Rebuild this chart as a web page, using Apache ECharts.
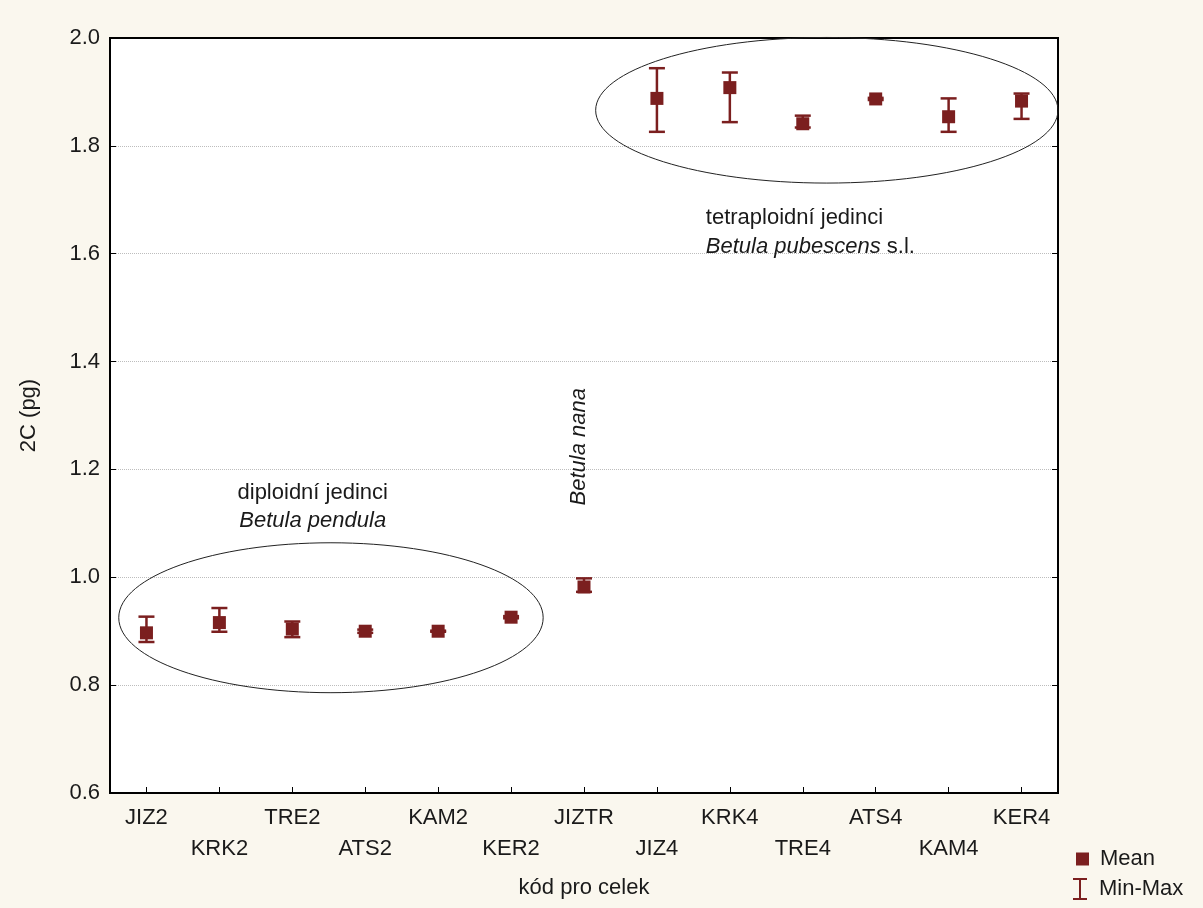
<!DOCTYPE html>
<html>
<head>
<meta charset="utf-8">
<script src="https://cdn.jsdelivr.net/npm/echarts@6/dist/echarts.min.js"></script>
<style>
  html, body { margin: 0; padding: 0; background: #faf7ee; }
  #chart { width: 1203px; height: 908px; }
</style>
</head>
<body>
<div id="chart"></div>
<script>
var categories = ['JIZ2', 'KRK2', 'TRE2', 'ATS2', 'KAM2', 'KER2', 'JIZTR',
  'JIZ4', 'KRK4', 'TRE4', 'ATS4', 'KAM4', 'KER4']
var meanValues = [0.897, 0.916, 0.904, 0.900, 0.900, 0.926, 0.982,
  1.888, 1.908, 1.841, 1.887, 1.854, 1.883]
var minValues = [0.880, 0.899, 0.889, 0.897, 0.899, 0.924, 0.973,
  1.826, 1.844, 1.834, 1.885, 1.826, 1.850]
var maxValues = [0.927, 0.943, 0.918, 0.903, 0.901, 0.928, 0.998,
  1.944, 1.936, 1.856, 1.889, 1.888, 1.897]
var yMin = 0.6
var yMax = 2.0
var yStep = 0.2

var MARK = '#7b1f1f'
var FONT = 'Liberation Sans, Arial, sans-serif'
var TEXT = '#1a1a1a'
var FS = 22

var chart = echarts.init(document.getElementById('chart'))

function renderErrorBar(params, api) {
  var i = api.value(0)
  var lo = api.coord([i, api.value(1)])
  var hi = api.coord([i, api.value(2)])
  var half = 8
  var style = { stroke: MARK, lineWidth: 2.5 }
  return {
    type: 'group',
    children: [
      { type: 'line', shape: { x1: lo[0], y1: lo[1], x2: hi[0], y2: hi[1] }, style: style },
      { type: 'line', shape: { x1: lo[0] - half, y1: lo[1], x2: lo[0] + half, y2: lo[1] }, style: style },
      { type: 'line', shape: { x1: hi[0] - half, y1: hi[1], x2: hi[0] + half, y2: hi[1] }, style: style }
    ]
  }
}

var yAxisBase = {
  type: 'value',
  min: yMin,
  max: yMax,
  interval: yStep,
  axisLine: { show: true, lineStyle: { color: '#000', width: 2 } },
  axisTick: { show: true, inside: true, length: 6, lineStyle: { color: '#000' } }
}

chart.setOption({
  backgroundColor: '#faf7ee',
  textStyle: { fontFamily: FONT },
  grid: {
    left: 110,
    right: 145,
    top: 38,
    bottom: 115,
    show: true,
    backgroundColor: '#fff',
    borderColor: '#000',
    borderWidth: 2
  },
  legend: [
    {
      data: [{ name: 'Mean', icon: 'rect' }],
      left: 1071,
      top: 843,
      itemWidth: 13,
      itemHeight: 13,
      itemGap: 10,
      textStyle: { fontSize: FS, color: TEXT, fontFamily: FONT, padding: [0, 0, 0, 6] }
    },
    {
      data: [{ name: 'Min-Max', icon: 'path://M0,0h14v2h-6v18h6v2h-14v-2h6v-18h-6z' }],
      left: 1068,
      top: 873,
      itemWidth: 16,
      itemHeight: 22,
      itemGap: 10,
      textStyle: { fontSize: FS, color: TEXT, fontFamily: FONT, padding: [0, 0, 0, 6] }
    }
  ],
  xAxis: {
    type: 'category',
    data: categories,
    boundaryGap: true,
    name: 'kód pro celek',
    nameLocation: 'middle',
    nameGap: 84,
    nameTextStyle: { fontSize: FS, color: TEXT, fontFamily: FONT },
    axisLine: { lineStyle: { color: '#000', width: 2 } },
    axisTick: { show: true, inside: true, alignWithLabel: true, length: 6, lineStyle: { color: '#000' } },
    axisLabel: {
      interval: 0,
      margin: 9,
      fontSize: FS,
      lineHeight: 31,
      color: TEXT,
      fontFamily: FONT,
      formatter: function(value, index) {
        return index % 2 ? '\n' + value : value
      }
    },
    splitLine: { show: false }
  },
  yAxis: [
    Object.assign({}, yAxisBase, {
      name: '2C (pg)',
      nameLocation: 'middle',
      nameRotate: 90,
      nameGap: 70,
      nameTextStyle: { fontSize: FS, color: TEXT, fontFamily: FONT },
      axisLabel: {
        margin: 10,
        fontSize: FS,
        color: TEXT,
        fontFamily: FONT,
        formatter: function(v) { return v.toFixed(1) }
      },
      splitLine: {
        show: true,
        showMinLine: false,
        showMaxLine: false,
        lineStyle: { color: '#bdbdbd', type: 'dotted', width: 1 }
      }
    }),
    Object.assign({}, yAxisBase, {
      position: 'right',
      axisLabel: { show: false },
      splitLine: { show: false }
    })
  ],
  series: [
    {
      name: 'Min-Max',
      type: 'custom',
      z: 2,
      itemStyle: { color: MARK },
      renderItem: renderErrorBar,
      encode: { x: 0, y: [1, 2] },
      data: categories.map(function(c, i) { return [i, minValues[i], maxValues[i]] })
    },
    {
      name: 'Mean',
      type: 'scatter',
      z: 3,
      symbol: 'rect',
      symbolSize: 13,
      itemStyle: { color: MARK, opacity: 1 },
      data: categories.map(function(c, i) { return [i, meanValues[i]] })
    }
  ]
})

// annotations, anchored on the axes (fractional category index, value)
function px(idx, val) {
  var a = chart.convertToPixel({ xAxisIndex: 0, yAxisIndex: 0 }, [0, val])
  var b = chart.convertToPixel({ xAxisIndex: 0, yAxisIndex: 0 }, [1, val])
  return [a[0] + idx * (b[0] - a[0]), a[1]]
}

function ellipseAt(cx, cy, rxBands, ryVal) {
  var c = px(cx, cy)
  var ex = px(cx + rxBands, cy)
  var ey = px(cx, cy + ryVal)
  return {
    type: 'ellipse',
    silent: true,
    z: 10,
    shape: { cx: c[0], cy: c[1], rx: Math.abs(ex[0] - c[0]), ry: Math.abs(c[1] - ey[1]) },
    style: { fill: 'none', stroke: '#222', lineWidth: 1 }
  }
}

function textAt(idx, val, text, opts) {
  var p = px(idx, val)
  return Object.assign({
    type: 'text',
    silent: true,
    z: 10,
    x: p[0],
    y: p[1],
    style: Object.assign({
      text: text,
      fontSize: FS,
      fontFamily: FONT,
      fill: TEXT,
      align: 'center',
      verticalAlign: 'middle'
    }, opts && opts.style)
  }, opts && opts.el)
}

var italicRich = { i: { fontStyle: 'italic', fontSize: FS, fontFamily: FONT, fill: TEXT } }

chart.setOption({
  graphic: [
    ellipseAt(2.53, 0.925, 2.91, 0.139),
    ellipseAt(9.33, 1.866, 3.17, 0.135),
    textAt(2.28, 1.156, 'diploidní jedinci'),
    textAt(2.28, 1.104, '{i|Betula pendula}', { style: { rich: italicRich } }),
    textAt(5.93, 1.242, '{i|Betula nana}', { style: { rich: italicRich }, el: { rotation: Math.PI / 2 } }),
    textAt(7.67, 1.666, 'tetraploidní jedinci', { style: { align: 'left' } }),
    textAt(7.67, 1.612, '{i|Betula pubescens} s.l.', { style: { align: 'left', rich: italicRich } })
  ]
})
</script>
</body>
</html>
